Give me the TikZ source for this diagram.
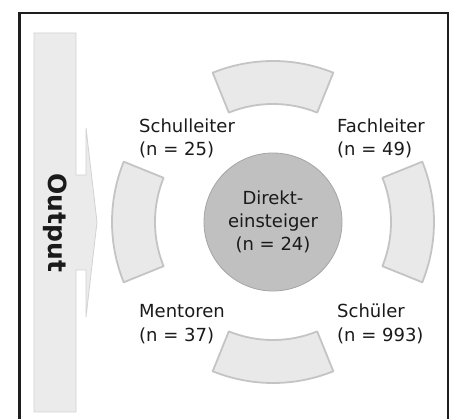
\documentclass[tikz,border=0pt]{standalone}
\usepackage{fontspec}
\setmainfont{DejaVu Sans}
\usetikzlibrary{calc}
\definecolor{framec}{HTML}{1E1E1E}
\definecolor{barfill}{HTML}{EBEBEB}
\definecolor{barline}{HTML}{D2D2D2}
\definecolor{segfill}{HTML}{E9E9E9}
\definecolor{segline}{HTML}{C4C4C4}
\definecolor{corefill}{HTML}{C0C0C0}
\definecolor{coreline}{HTML}{A4A4A4}
\definecolor{txt}{HTML}{1A1A1A}
\begin{document}
\begin{tikzpicture}[x=1pt,y=-1pt,
  segment/.style={fill=segfill,draw=segline,line width=1.8pt,line join=round},
  label/.style={anchor=base west,inner sep=0pt,text=txt,font=\fontsize{18}{23}\selectfont},
  core/.style={circle,minimum size=138pt,inner sep=0pt,fill=corefill,draw=coreline,line width=0.8pt,
    align=center,text=txt,font=\fontsize{18}{23}\selectfont},
  outbar/.style={fill=barfill,draw=barline,line width=0.8pt,line join=miter}]
\useasboundingbox (0,0) rectangle (451,419);
\clip (0,0) rectangle (451,419);

% outer frame (open towards the bottom edge)
\draw[framec,line width=2.5pt] (19.5,13) rectangle (448,440);

% vertical output bar with its arrow pointing to the ring
\draw[outbar] (34,33) -- (76,33) -- (76,175) -- (86,175) -- (86,128) -- (97,222)
  -- (86,317) -- (86,270) -- (76,270) -- (76,412) -- (34,412) -- cycle;
\node[rotate=-90,inner sep=0pt,text=txt,font=\bfseries\fontsize{25}{30}\selectfont] (out) at (55,223) {Output};

% ring of four segments around the centre
\coordinate (c) at (273,222);
\foreach \a in {0,90,180,270}{
  \draw[segment] ($(c)+(\a-22:161)$) arc[start angle=\a-22,end angle=\a+22,radius=161]
    -- ($(c)+(\a+22:118)$) arc[start angle=\a+22,end angle=\a-22,radius=118] -- cycle;
}

% central group
\node[core] (dir) at (c) {Direkt-\\einsteiger\\(n = 24)};

% groups around the ring
\node[label] (sl) at (139,133) {Schulleiter};
\node[label] (sln) at (139,156) {(n = 25)};
\node[label] (fl) at (337,133) {Fachleiter};
\node[label] (fln) at (337,156) {(n = 49)};
\node[label] (me) at (139,318) {Mentoren};
\node[label] (men) at (139,341.5) {(n = 37)};
\node[label] (sc) at (337,318) {Schüler};
\node[label] (scn) at (337,341.5) {(n = 993)};
\end{tikzpicture}
\end{document}
